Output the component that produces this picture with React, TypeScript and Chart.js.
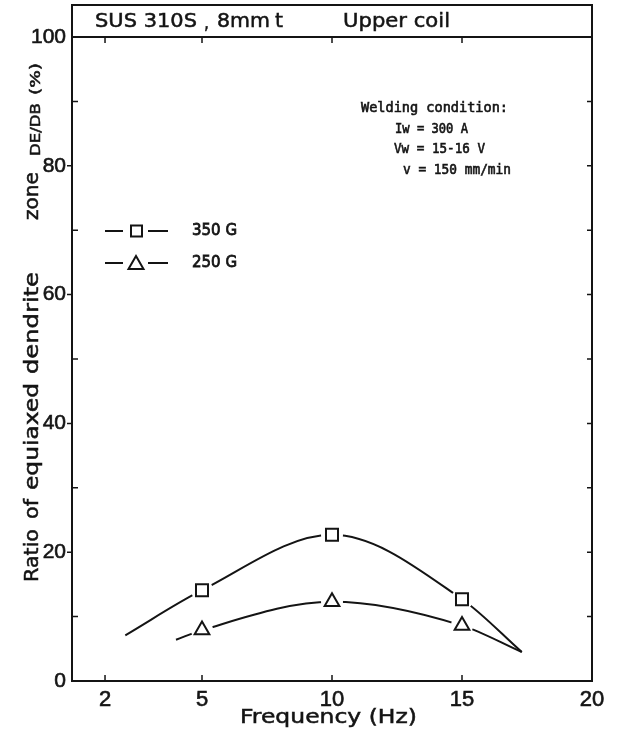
import { useEffect, useRef } from 'react';
import { Chart, registerables } from 'chart.js';

Chart.register(...registerables);

// Measured ratio of equiaxed dendrite zone (%) at each frequency (Hz)
const measuredFreq = [5, 10, 15];
const ratio350G = [14.1, 22.7, 12.7];
const ratio250G = [7.9, 12.3, 8.6];

// Ends of the hand-drawn trend curves
const curveStart350G = [2.05, 7.1];
const curveStart250G = [4.0, 6.4];
const curveEnd = [17.3, 4.5];

// Axis marks
const xTickValues = [1.27, 5, 10, 15, 20];
const xTickLabels = ['2', '5', '10', '15', '20'];
const yTickValues = [0, 20, 40, 60, 80, 100];
const yMinorValues = [10, 30, 50, 70, 90];

const INK = '#141414';

const toPoints = (xs: number[], ys: number[]) => xs.map((x, i) => ({ x, y: ys[i] }));
const curve = (start: number[], xs: number[], ys: number[], end: number[]) => [
  { x: start[0], y: start[1] },
  ...toPoints(xs, ys),
  { x: end[0], y: end[1] },
];

// Draws text squeezed/stretched to an exact width, with a light outline for weight
function fitText(
  ctx: CanvasRenderingContext2D,
  text: string,
  x: number,
  y: number,
  width: number,
  font: string,
  weight = 0.5,
) {
  ctx.save();
  ctx.font = font;
  ctx.textAlign = 'left';
  ctx.textBaseline = 'middle';
  const w = ctx.measureText(text).width;
  ctx.translate(x, y);
  ctx.scale(width / w, 1);
  ctx.fillText(text, 0, 0);
  if (weight > 0) {
    ctx.lineWidth = weight;
    ctx.strokeText(text, 0, 0);
  }
  ctx.restore();
}

function vertText(
  ctx: CanvasRenderingContext2D,
  text: string,
  baseX: number,
  yBottom: number,
  yTop: number,
  font: string,
) {
  ctx.save();
  ctx.font = font;
  ctx.textAlign = 'left';
  ctx.textBaseline = 'alphabetic';
  const w = ctx.measureText(text).width;
  ctx.translate(baseX, yBottom);
  ctx.rotate(-Math.PI / 2);
  ctx.scale((yBottom - yTop) / w, 1);
  ctx.fillText(text, 0, 0);
  ctx.lineWidth = 0.5;
  ctx.strokeText(text, 0, 0);
  ctx.restore();
}

const sans = (size: number) => `${size}px "DejaVu Sans"`;
const mono = (size: number) => `${size}px "DejaVu Sans Mono"`;

const decorPlugin = {
  id: 'decor',
  beforeDraw(chart: Chart) {
    const { ctx, width, height } = chart;
    ctx.save();
    ctx.fillStyle = '#fff';
    ctx.fillRect(0, 0, width, height);
    ctx.restore();
  },
  afterDraw(chart: Chart) {
    const { ctx, chartArea: a } = chart;
    const xs = chart.scales.x;
    const ys = chart.scales.y;
    ctx.save();
    ctx.strokeStyle = INK;
    ctx.fillStyle = INK;

    // plot frame and heading box
    ctx.lineWidth = 2;
    ctx.strokeRect(a.left, a.top, a.right - a.left, a.bottom - a.top);
    ctx.strokeRect(a.left, 5, a.right - a.left, a.top - 5);

    // tick marks
    ctx.lineWidth = 1.5;
    ctx.beginPath();
    xTickValues.slice(0, -1).forEach((v) => {
      const px = xs.getPixelForValue(v);
      ctx.moveTo(px, a.bottom);
      ctx.lineTo(px, a.bottom - 6);
      ctx.moveTo(px, a.top);
      ctx.lineTo(px, a.top + 6);
    });
    yTickValues.slice(1, -1).forEach((v) => {
      const py = ys.getPixelForValue(v);
      ctx.moveTo(a.left, py);
      ctx.lineTo(a.left - 5, py);
    });
    yMinorValues.forEach((v) => {
      const py = ys.getPixelForValue(v);
      ctx.moveTo(a.left, py);
      ctx.lineTo(a.left + 6, py);
    });
    [...yMinorValues, ...yTickValues.slice(1, -1)].forEach((v) => {
      const py = ys.getPixelForValue(v);
      ctx.moveTo(a.right, py);
      ctx.lineTo(a.right - 5, py);
    });
    ctx.stroke();

    // heading
    fitText(ctx, 'SUS 310S', 95, 22, 102, sans(19));
    fitText(ctx, ',', 204, 24, 5, sans(19));
    fitText(ctx, '8mm', 217, 22, 53, sans(19));
    fitText(ctx, 't', 275, 22, 8, sans(19));
    fitText(ctx, 'Upper coil', 343, 22, 107, sans(19));

    // axis titles
    fitText(ctx, 'Frequency (Hz)', 240, 718, 177, sans(19));
    const yWords: [string, number, number, number][] = [
      ['Ratio', 582, 529, 20],
      ['of', 519, 499, 20],
      ['equiaxed', 490, 383, 20],
      ['dendrite', 374, 272, 20],
      ['zone', 220, 172, 20],
      ['DE/DB', 156, 103, 14],
      ['(%)', 95, 63, 14],
    ];
    yWords.forEach(([t, b, top, size]) => vertText(ctx, t, size > 16 ? 38 : 40, b, top, sans(size)));

    // welding notes
    fitText(ctx, 'Welding condition:', 361, 108, 147, mono(13.5), 0.6);
    fitText(ctx, 'Iw = 300 A', 395, 129, 73, mono(13.5), 0.6);
    fitText(ctx, 'Vw = 15-16 V', 394, 149, 91, mono(13.5), 0.6);
    fitText(ctx, 'v = 150 mm/min', 403, 170, 108, mono(13.5), 0.6);

    // key
    ctx.lineWidth = 2;
    const rows: [number, string, string][] = [
      [231, 'rect', '350 G'],
      [263, 'triangle', '250 G'],
    ];
    rows.forEach(([ry, shape, label]) => {
      ctx.lineWidth = 2;
      ctx.beginPath();
      ctx.moveTo(105, ry);
      ctx.lineTo(123, ry);
      ctx.moveTo(148, ry);
      ctx.lineTo(168, ry);
      ctx.stroke();
      ctx.beginPath();
      if (shape === 'rect') {
        ctx.rect(131, ry - 5.5, 11, 11);
      } else {
        ctx.moveTo(136, ry - 7);
        ctx.lineTo(143.5, ry + 6);
        ctx.lineTo(128.5, ry + 6);
        ctx.closePath();
      }
      ctx.stroke();
      fitText(ctx, label, 192, ry, 45, sans(16), 0.8);
    });

    ctx.restore();
  },
};

const lineStyle = {
  showLine: true,
  borderColor: INK,
  borderWidth: 2,
  pointRadius: 0,
  cubicInterpolationMode: 'monotone' as const,
};

const haloStyle = {
  showLine: false,
  pointRadius: 11,
  pointBackgroundColor: '#fff',
  pointBorderColor: '#fff',
  pointBorderWidth: 0,
  pointStyle: 'circle' as const,
};

const markStyle = {
  showLine: false,
  pointRadius: 8.5,
  pointBackgroundColor: '#fff',
  pointBorderColor: INK,
  pointBorderWidth: 2,
};

export default function App() {
  const ref = useRef<HTMLCanvasElement>(null);

  useEffect(() => {
    const chart = new Chart(ref.current!, {
      type: 'scatter',
      data: {
        datasets: [
          { label: '350 G mark', data: toPoints(measuredFreq, ratio350G), ...markStyle, pointStyle: 'rect', order: 1 },
          { label: '250 G mark', data: toPoints(measuredFreq, ratio250G), ...markStyle, pointStyle: 'triangle', order: 1 },
          { label: '350 G gap', data: toPoints(measuredFreq, ratio350G), ...haloStyle, order: 2 },
          { label: '250 G gap', data: toPoints(measuredFreq, ratio250G), ...haloStyle, order: 2 },
          { label: '350 G', data: curve(curveStart350G, measuredFreq, ratio350G, curveEnd), ...lineStyle, order: 3 },
          { label: '250 G', data: curve(curveStart250G, measuredFreq, ratio250G, curveEnd), ...lineStyle, order: 3 },
        ],
      },
      options: {
        responsive: false,
        maintainAspectRatio: false,
        devicePixelRatio: 1,
        animation: false,
        events: [],
        layout: { padding: { left: 0, top: 37, right: 25, bottom: 0 } },
        plugins: { legend: { display: false }, tooltip: { enabled: false } },
        scales: {
          x: {
            type: 'linear',
            min: 0,
            max: 20,
            grid: { display: false, drawTicks: false },
            border: { display: false },
            afterBuildTicks: (s: any) => {
              s.ticks = xTickValues.map((value) => ({ value }));
            },
            afterFit: (s: any) => {
              s.height = 56;
            },
            ticks: {
              autoSkip: false,
              maxRotation: 0,
              padding: 6,
              color: INK,
              textStrokeColor: INK,
              textStrokeWidth: 0.6,
              font: { family: 'Liberation Sans', size: 22 },
              callback: (_v: any, i: number) => xTickLabels[i],
            },
          },
          y: {
            type: 'linear',
            min: 0,
            max: 100,
            grid: { display: false, drawTicks: false },
            border: { display: false },
            afterBuildTicks: (s: any) => {
              s.ticks = yTickValues.map((value) => ({ value }));
            },
            afterFit: (s: any) => {
              s.width = 72;
            },
            ticks: {
              padding: 6,
              color: INK,
              textStrokeColor: INK,
              textStrokeWidth: 0.6,
              font: { family: 'Liberation Sans', size: 21 },
            },
          },
        },
      },
      plugins: [decorPlugin],
    });
    return () => chart.destroy();
  }, []);

  return (
    <div style={{ position: 'fixed', left: 0, top: 0, width: 617, height: 737, background: '#fff' }}>
      <canvas ref={ref} width={617} height={737} style={{ display: 'block' }} />
    </div>
  );
}
